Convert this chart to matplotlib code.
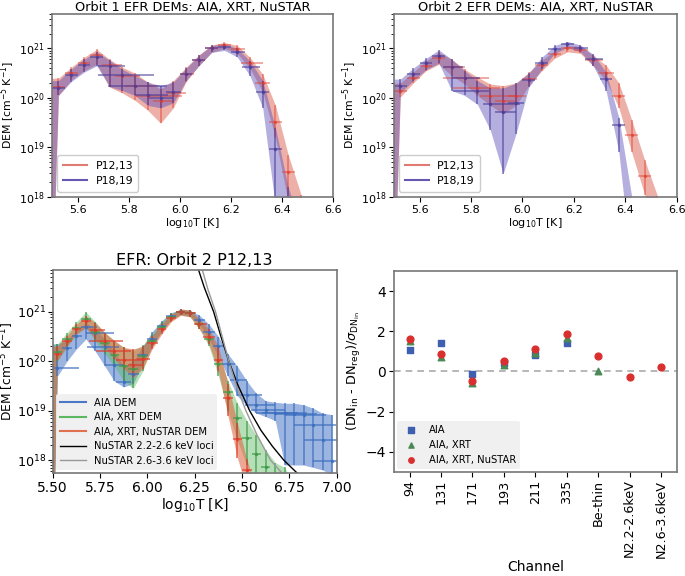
import numpy as np
import matplotlib
matplotlib.use("Agg")
import matplotlib.pyplot as plt
from matplotlib.lines import Line2D

# ================= DATA =================
# temperature bin centres (log10 T)
LOGT = [5.475, 5.525, 5.575, 5.625, 5.675, 5.725, 5.775, 5.825, 5.875, 5.925,
        5.975, 6.025, 6.075, 6.125, 6.175, 6.225, 6.275, 6.325, 6.375, 6.425,
        6.475, 6.525, 6.575, 6.625, 6.675, 6.725, 6.775, 6.825, 6.875, 6.925,
        6.975]

# ---- Orbit 1, P12,13 (log10 DEM, band low/high, temperature half-widths) ----
o1_p12_dem = [20.25, 20.22, 20.51, 20.71, 20.87, 20.67, 20.45, 20.25, 20.03, 19.93,
              20.09, 20.49, 20.77, 21.00, 21.07, 20.98, 20.71, 20.31, 19.51, 18.50,
              17.60, 16.50]
o1_p12_lo = [12.0, 20.05, 20.36, 20.55, 20.68, 20.22, 20.10, 19.95, 19.75, 19.49,
             19.80, 20.33, 20.65, 20.92, 21.00, 20.90, 20.60, 20.12, 19.20, 17.90,
             16.50, 15.00]
o1_p12_hi = [20.40, 20.40, 20.62, 20.82, 20.98, 20.78, 20.62, 20.50, 20.32, 20.18,
             20.35, 20.62, 20.87, 21.07, 21.12, 21.06, 20.82, 20.48, 19.85, 18.85,
             18.05, 17.00]
o1_p12_xl = [0.025, 0.025, 0.025, 0.025, 0.025, 0.03, 0.03, 0.04, 0.045, 0.03,
             0.03, 0.025, 0.025, 0.025, 0.025, 0.025, 0.035, 0.03, 0.025, 0.025,
             0.025, 0.025]
o1_p12_xr = [0.025, 0.025, 0.025, 0.025, 0.025, 0.05, 0.07, 0.09, 0.135, 0.05,
             0.05, 0.03, 0.025, 0.025, 0.025, 0.03, 0.05, 0.03, 0.025, 0.025,
             0.025, 0.025]

# ---- Orbit 1, P18,19 ----
o1_p18_dem = [20.20, 20.20, 20.47, 20.67, 20.82, 20.65, 20.47, 20.25, 20.05, 19.99,
              20.12, 20.49, 20.77, 21.00, 21.03, 20.93, 20.63, 20.13, 18.97, 17.30,
              16.00, 15.00]
o1_p18_lo = [12.0, 20.05, 20.33, 20.52, 20.65, 20.23, 20.15, 20.05, 19.85, 19.80,
             19.90, 20.35, 20.65, 20.92, 20.96, 20.83, 20.45, 19.80, 17.80, 15.00,
             14.00, 13.00]
o1_p18_hi = [20.35, 20.35, 20.58, 20.78, 20.93, 20.76, 20.58, 20.45, 20.32, 20.25,
             20.32, 20.60, 20.86, 21.06, 21.09, 21.00, 20.75, 20.35, 19.40, 18.20,
             17.40, 16.00]
o1_p18_xl = [0.025, 0.025, 0.025, 0.025, 0.025, 0.045, 0.095, 0.105, 0.05, 0.05,
             0.03, 0.025, 0.025, 0.025, 0.025, 0.025, 0.03, 0.025, 0.025, 0.025,
             0.025, 0.025]
o1_p18_xr = [0.025, 0.025, 0.025, 0.025, 0.025, 0.06, 0.125, 0.125, 0.08, 0.05,
             0.03, 0.025, 0.025, 0.025, 0.025, 0.03, 0.04, 0.025, 0.025, 0.025,
             0.025, 0.025]

# ---- Orbit 2, P12,13 (AIA, XRT, NuSTAR) ----
o2_p12_dem = [20.14, 20.14, 20.41, 20.65, 20.81, 20.63, 20.41, 20.21, 20.03, 19.93,
              20.04, 20.38, 20.66, 20.88, 21.00, 20.97, 20.76, 20.50, 20.03, 19.25,
              18.43, 17.80, 17.00, 16.30, 15.70, 15.20, 15.00, 15.00, 15.00, 15.00,
              15.00]
o2_p12_lo = [12.0, 20.02, 20.30, 20.55, 20.68, 20.45, 20.28, 20.05, 19.85, 19.68,
             19.85, 20.25, 20.55, 20.80, 20.93, 20.90, 20.65, 20.35, 19.80, 18.90,
             18.05, 17.40, 16.50, 15.80, 15.20, 14.80, 14.50, 14.50, 14.50, 14.50,
             14.50]
o2_p12_hi = [20.30, 20.30, 20.52, 20.75, 20.92, 20.78, 20.58, 20.42, 20.28, 20.25,
             20.30, 20.52, 20.76, 20.95, 21.06, 21.04, 20.86, 20.66, 20.30, 19.55,
             18.75, 18.02, 17.40, 16.60, 16.00, 15.50, 15.20, 15.20, 15.20, 15.20,
             15.20]
o2_p12_xl = [0.025, 0.025, 0.025, 0.025, 0.025, 0.03, 0.085, 0.094, 0.04, 0.03,
             0.03, 0.025, 0.025, 0.025, 0.025, 0.025, 0.03, 0.03, 0.025, 0.025,
             0.025, 0.025, 0.025, 0.025, 0.025, 0.025, 0.025, 0.025, 0.025, 0.025,
             0.025]
o2_p12_xr = [0.025, 0.025, 0.025, 0.025, 0.025, 0.05, 0.095, 0.087, 0.096, 0.05,
             0.04, 0.03, 0.025, 0.025, 0.025, 0.03, 0.04, 0.03, 0.025, 0.025,
             0.025, 0.025, 0.025, 0.025, 0.025, 0.025, 0.025, 0.025, 0.025, 0.025,
             0.025]

# ---- Orbit 2, P18,19 ----
o2_p18_dem = [20.24, 20.24, 20.49, 20.70, 20.84, 20.63, 20.41, 20.14, 19.87, 19.72,
              19.89, 20.37, 20.71, 20.98, 21.09, 21.01, 20.78, 20.38, 19.45, 17.80,
              16.50, 15.50]
o2_p18_lo = [12.0, 20.10, 20.35, 20.57, 20.70, 20.15, 20.05, 19.87, 19.35, 18.47,
             19.28, 20.22, 20.58, 20.90, 21.02, 20.93, 20.65, 20.15, 18.90, 16.50,
             15.00, 14.00]
o2_p18_hi = [20.38, 20.38, 20.60, 20.80, 20.97, 20.78, 20.55, 20.35, 20.20, 20.20,
             20.30, 20.50, 20.82, 21.06, 21.14, 21.07, 20.88, 20.52, 19.60, 18.00,
             17.50, 16.50]
o2_p18_xl = [0.025, 0.025, 0.025, 0.025, 0.025, 0.035, 0.05, 0.095, 0.03, 0.03,
             0.03, 0.025, 0.025, 0.025, 0.025, 0.025, 0.03, 0.025, 0.025, 0.025,
             0.025, 0.025]
o2_p18_xr = [0.025, 0.025, 0.025, 0.025, 0.025, 0.045, 0.06, 0.045, 0.115, 0.05,
             0.03, 0.025, 0.025, 0.025, 0.025, 0.03, 0.04, 0.025, 0.025, 0.025,
             0.025, 0.025]

# ---- Orbit 2, P12,13: AIA only ----
aia_dem = [19.86, 19.86, 20.26, 20.51, 20.70, 20.57, 20.28, 19.92, 19.58, 19.75,
           20.12, 20.45, 20.72, 20.92, 21.00, 20.97, 20.84, 20.60, 20.31, 19.95,
           19.62, 19.32, 19.11, 19.01, 18.96, 18.95, 18.94, 18.91, 18.71, 18.40,
           17.98]
aia_lo = [12.0, 19.70, 20.00, 20.25, 20.45, 20.20, 19.90, 19.60, 19.48, 19.55,
          19.95, 20.30, 20.60, 20.85, 20.95, 20.92, 20.75, 20.45, 20.10, 19.70,
          19.30, 19.10, 18.95, 18.88, 18.80, 17.90, 17.90, 17.90, 17.85, 17.80,
          17.70]
aia_hi = [20.35, 20.35, 20.45, 20.62, 20.78, 20.65, 20.45, 20.20, 19.90, 20.00,
          20.30, 20.60, 20.82, 20.98, 21.05, 21.03, 20.93, 20.75, 20.50, 20.15,
          19.90, 19.60, 19.35, 19.20, 19.17, 19.15, 19.15, 19.12, 19.05, 18.95,
          18.92]
aia_xl = [0.025, 0.025, 0.025, 0.025, 0.025, 0.05, 0.095, 0.05, 0.04, 0.03,
          0.03, 0.025, 0.025, 0.025, 0.025, 0.025, 0.03, 0.03, 0.03, 0.03,
          0.04, 0.05, 0.06, 0.08, 0.1, 0.12, 0.1, 0.1, 0.1, 0.1,
          0.1]
aia_xr = [0.025, 0.115, 0.025, 0.03, 0.06, 0.1, 0.075, 0.05, 0.04, 0.03,
          0.03, 0.025, 0.025, 0.025, 0.025, 0.025, 0.03, 0.03, 0.03, 0.04,
          0.05, 0.08, 0.1, 0.1, 0.12, 0.12, 0.12, 0.12, 0.12, 0.1,
          0.05]

# ---- Orbit 2, P12,13: AIA + XRT ----
xrt_dem = [20.20, 20.18, 20.45, 20.68, 20.86, 20.60, 20.38, 20.12, 19.90, 19.85,
           20.10, 20.42, 20.70, 20.90, 21.00, 20.97, 20.75, 20.45, 19.95, 19.38,
           18.85, 18.45, 18.12, 17.85, 17.60, 17.30, 17.00, 16.50, 16.00, 15.50,
           15.00]
xrt_lo = [12.0, 20.00, 20.30, 20.55, 20.70, 20.40, 20.15, 19.90, 19.60, 19.45,
          19.80, 20.30, 20.60, 20.82, 20.94, 20.90, 20.65, 20.30, 19.70, 19.00,
          18.40, 17.90, 17.50, 17.10, 16.80, 16.40, 16.00, 15.50, 15.00, 15.00,
          15.00]
xrt_hi = [20.35, 20.35, 20.58, 20.80, 21.00, 20.80, 20.58, 20.42, 20.28, 20.22,
          20.32, 20.55, 20.80, 20.97, 21.05, 21.03, 20.85, 20.60, 20.15, 19.60,
          19.15, 18.80, 18.50, 18.20, 17.95, 17.85, 17.50, 17.00, 16.50, 16.00,
          15.50]
xrt_xl = [0.025] * 31
xrt_xr = [0.025] * 31

# ---- NuSTAR EM loci (log10 T, log10 DEM) ----
loci_22_t = [6.27, 6.30, 6.35, 6.39, 6.43, 6.48, 6.54, 6.60, 6.66, 6.72, 6.79]
loci_22_d = [21.85, 21.50, 21.00, 20.48, 20.00, 19.50, 19.00, 18.60, 18.28, 18.00, 17.74]
loci_26_t = [6.29, 6.32, 6.36, 6.395, 6.43, 6.47, 6.52, 6.58, 6.65, 6.71]
loci_26_d = [21.85, 21.45, 21.00, 20.50, 20.00, 19.50, 19.00, 18.50, 18.00, 17.74]

# ---- residuals ----
channels = ["94", "131", "171", "193", "211", "335", "Be-thin",
            "N2.2-2.6keV", "N2.6-3.6keV"]
res_aia = [1.08, 1.42, -0.12, 0.42, 0.82, 1.40]
res_aia_xrt = [1.50, 0.70, -0.55, 0.32, 0.92, 1.68, 0.00]
res_all = [1.60, 0.85, -0.48, 0.50, 1.12, 1.85, 0.76, -0.27, 0.22]

# ================= STYLE =================
RED_BAND = "#d9503f"
RED_BAR = "#e23a2a"
PUR_BAND = "#5a4fb8"
PUR_BAR = "#4a3d9a"
SPINE = "#777777"
LEG_BG = "#efefef"


def style_axes(ax):
    for s in ax.spines.values():
        s.set_color(SPINE)
        s.set_linewidth(1.2)


def draw_dem(ax, dem, lo, hi, xl, xr, band_color, bar_color, band_alpha,
             bar_alpha, ms=3):
    n = len(dem)
    t = np.array(LOGT[:n])
    d = 10.0 ** np.array(dem)
    lo_v = 10.0 ** np.array(lo)
    hi_v = 10.0 ** np.array(hi)
    ax.fill_between(t, lo_v, hi_v, color=band_color, alpha=band_alpha, lw=0)
    ax.errorbar(t, d, xerr=[xl[:n], xr[:n]], yerr=[d - lo_v, hi_v - d],
                fmt=".", color=bar_color, ecolor=bar_color, ms=ms,
                elinewidth=1.1, alpha=bar_alpha, capsize=0)


fig = plt.figure(figsize=(6.85, 5.76), dpi=100)

# ================= TOP PANELS =================
top_sets = [
    ("Orbit 1 EFR DEMs: AIA, XRT, NuSTAR",
     (o1_p12_dem, o1_p12_lo, o1_p12_hi, o1_p12_xl, o1_p12_xr),
     (o1_p18_dem, o1_p18_lo, o1_p18_hi, o1_p18_xl, o1_p18_xr),
     [0.076, 0.658, 0.410, 0.318]),
    ("Orbit 2 EFR DEMs: AIA, XRT, NuSTAR",
     (o2_p12_dem[:22], o2_p12_lo[:22], o2_p12_hi[:22], o2_p12_xl, o2_p12_xr),
     (o2_p18_dem, o2_p18_lo, o2_p18_hi, o2_p18_xl, o2_p18_xr),
     [0.575, 0.658, 0.413, 0.318]),
]

for title, p12, p18, rect in top_sets:
    ax = fig.add_axes(rect)
    draw_dem(ax, *p12, RED_BAND, RED_BAR, 0.45, 0.55)
    draw_dem(ax, *p18, PUR_BAND, PUR_BAR, 0.45, 0.7)
    ax.set_yscale("log")
    ax.set_xlim(5.5, 6.6)
    ax.set_ylim(1e18, 5e21)
    ax.set_xticks([5.6, 5.8, 6.0, 6.2, 6.4, 6.6])
    ax.set_title(title, fontsize=9.3, pad=2)
    ax.set_xlabel("log$_{10}$T [K]", fontsize=8, labelpad=1)
    ax.set_ylabel("DEM [cm$^{-5}$ K$^{-1}$]", fontsize=7.8, labelpad=1)
    ax.tick_params(labelsize=8, pad=2)
    style_axes(ax)
    handles = [Line2D([], [], color="#e07b74", lw=1.5),
               Line2D([], [], color="#6558b0", lw=1.5)]
    ax.legend(handles, ["P12,13", "P18,19"], loc="lower left", fontsize=7.8,
              framealpha=1, handlelength=2.2, borderpad=0.5)

# ================= BOTTOM LEFT =================
ax3 = fig.add_axes([0.077, 0.179, 0.4146, 0.352])
draw_dem(ax3, aia_dem, aia_lo, aia_hi, aia_xl, aia_xr, "#4a78c8", "#3d6fc0",
         0.55, 0.8)
draw_dem(ax3, xrt_dem, xrt_lo, xrt_hi, xrt_xl, xrt_xr, "#5cb860", "#3f9a48",
         0.45, 0.8)
draw_dem(ax3, o2_p12_dem, o2_p12_lo, o2_p12_hi, o2_p12_xl, o2_p12_xr,
         "#e0603c", "#e03a2a", 0.55, 0.8)
ax3.plot(loci_22_t, 10.0 ** np.array(loci_22_d), color="black", lw=1.0)
ax3.plot(loci_26_t, 10.0 ** np.array(loci_26_d), color="#999999", lw=1.0)
ax3.set_yscale("log")
ax3.set_xlim(5.5, 7.0)
ax3.set_ylim(5.5e17, 7e21)
ax3.set_title("EFR: Orbit 2 P12,13", fontsize=11.5, pad=4)
ax3.set_xlabel("log$_{10}$T [K]", fontsize=10, labelpad=1)
ax3.set_ylabel("DEM [cm$^{-5}$ K$^{-1}$]", fontsize=8.8)
ax3.yaxis.set_label_coords(-0.128, 0.5)
ax3.tick_params(axis="x", labelsize=10, pad=2)
ax3.tick_params(axis="y", labelsize=9.2, pad=1.5)
style_axes(ax3)
h3 = [Line2D([], [], color="#4a78c8", lw=1.5),
      Line2D([], [], color="#5cb860", lw=1.5),
      Line2D([], [], color="#e07050", lw=1.5),
      Line2D([], [], color="black", lw=1.0),
      Line2D([], [], color="#999999", lw=1.0)]
leg3 = ax3.legend(h3, ["AIA DEM", "AIA, XRT DEM", "AIA, XRT, NuSTAR DEM",
                       "NuSTAR 2.2-2.6 keV loci", "NuSTAR 2.6-3.6 keV loci"],
                  loc="lower left", fontsize=7.2, facecolor=LEG_BG,
                  edgecolor="none", framealpha=0.9, handlelength=2.6,
                  labelspacing=0.45, borderaxespad=0.3)

# ================= BOTTOM RIGHT =================
ax4 = fig.add_axes([0.575, 0.1806, 0.413, 0.349])
x = np.arange(len(channels))
ax4.axhline(0, color="#aaaaaa", ls="--", lw=1.2, dashes=(4, 3))
ax4.scatter(x[:len(res_aia)], res_aia, marker="s", s=22, color="#3f5fb0",
            label="AIA", zorder=3)
ax4.scatter(x[:len(res_aia_xrt)], res_aia_xrt, marker="^", s=22,
            color="#4a8a55", label="AIA, XRT", zorder=3)
ax4.scatter(x, res_all, marker="o", s=24, color="#d9302f",
            label="AIA, XRT, NuSTAR", zorder=4)
ax4.set_xlim(-0.5, len(channels) - 0.5)
ax4.set_ylim(-5, 5)
ax4.set_yticks([-4, -2, 0, 2, 4])
ax4.set_xticks(x)
ax4.set_xticklabels(channels, rotation=90)
ax4.tick_params(axis="y", labelsize=10, pad=2)
ax4.tick_params(axis="x", labelsize=9.2, pad=2)
ax4.set_xlabel("Channel", fontsize=10, labelpad=2)
ax4.set_ylabel(r"(DN$_{\rm in}$ - DN$_{\rm reg}$)/$\sigma_{\rm DN_{in}}$",
               fontsize=9.3, labelpad=2)
style_axes(ax4)
ax4.legend(loc="lower left", fontsize=7.2, facecolor=LEG_BG, edgecolor="none",
           framealpha=0.9, markerscale=0.8, labelspacing=0.5,
           borderaxespad=0.3)

fig.savefig("out.png", dpi=100)
